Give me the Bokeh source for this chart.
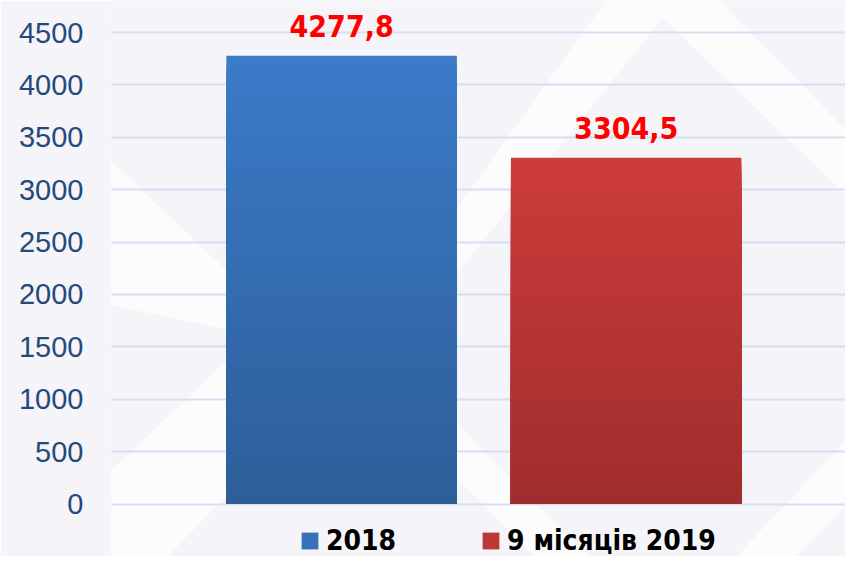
from bokeh.plotting import figure
from bokeh.models import (Range1d, FixedTicker, ColumnDataSource, LabelSet,
                          Legend, LegendItem, PolyAnnotation)
from bokeh.core.properties import value
from bokeh.embed import file_html
from bokeh.resources import INLINE

# ---- data ----
categories = ["2018", "9 місяців 2019"]
values = [4277.8, 3304.5]
y_ticks = [0, 500, 1000, 1500, 2000, 2500, 3000, 3500, 4000, 4500]

# ---- styles ----
top_colors = [(59, 123, 200), (204, 60, 58)]
bottom_colors = [(45, 94, 153), (160, 45, 45)]
solid_colors = ["#3872BA", "#BE3836"]
N_SLICES = 48
COND = "DejaVu Sans Condensed"
W, H = 845, 556
FRAME_LEFT = 111
X0, X1 = -0.3087, 2.2707
Y0, Y1 = -501, 4806

p = figure(width=W, height=H, output_backend="svg", toolbar_location=None,
           x_range=Range1d(X0, X1), y_range=Range1d(Y0, Y1),
           min_border_left=FRAME_LEFT, min_border_right=0, min_border_top=0,
           min_border_bottom=0, background_fill_color="#F5F5F9",
           border_fill_color="#F5F5F9", outline_line_color=None)

# ---- faint background chevrons (decoration, in page pixels) ----
def to_data(px, py):
    fx = px * W / 861.0
    fy = py * H / 572.0
    dx = X0 + (fx - FRAME_LEFT) / (W - FRAME_LEFT) * (X1 - X0)
    dy = Y1 - fy / H * (Y1 - Y0)
    return dx, dy

decor_shapes = [
    [(0, 57), (240, 287), (240, 340), (0, 290)],
    [(20, 572), (240, 362), (240, 500), (170, 572)],
    [(463, 217), (617, 0), (733, 0), (861, 133), (861, 200), (675, 18), (463, 283)],
    [(463, 433), (600, 572), (545, 572), (463, 490)],
    [(861, 453), (750, 572), (810, 572), (861, 520)],
]
for shape in decor_shapes:
    pts = [to_data(a, b) for a, b in shape]
    p.add_layout(PolyAnnotation(xs=[q[0] for q in pts], ys=[q[1] for q in pts],
                                fill_color="#FFFFFF", fill_alpha=0.7,
                                line_color=None, level="image"))

xs = [i + 0.5 for i in range(len(categories))]

# gradient bars: stacked-from-zero slices, tallest first
legend_renderers = []
for i, (x, v) in enumerate(zip(xs, values)):
    tops, cols = [], []
    for k in range(N_SLICES, 0, -1):
        t = v * k / N_SLICES
        f = (k - 0.5) / N_SLICES
        c = tuple(int(round(bottom_colors[i][j] + (top_colors[i][j] - bottom_colors[i][j]) * f)) for j in range(3))
        tops.append(t)
        cols.append("#%02x%02x%02x" % c)
    src = ColumnDataSource(dict(x=[x] * N_SLICES, top=tops, color=cols))
    p.vbar(x="x", bottom=0, top="top", width=0.81, fill_color="color",
           line_color=None, source=src)
    r = p.vbar(x=[x], bottom=[0], top=[0], width=0.81, fill_color=solid_colors[i],
               line_color=None)
    legend_renderers.append(r)

# value labels
lab_src = ColumnDataSource(dict(x=xs, y=values,
                                text=[f"{v:.1f}".replace(".", ",") for v in values]))
labels = LabelSet(x="x", y="y", text="text", source=lab_src, y_offset=19,
                  text_align="center", text_baseline="alphabetic",
                  text_font=value(COND), text_font_style="bold",
                  text_font_size="30px", text_color="#FF0000")
p.add_layout(labels)

# axes
p.xaxis.visible = False
p.yaxis.ticker = FixedTicker(ticks=y_ticks)
p.yaxis.axis_line_color = None
p.yaxis.major_tick_line_color = None
p.yaxis.minor_tick_line_color = None
p.yaxis.major_label_standoff = 22
p.yaxis.major_label_text_font = "Liberation Sans"
p.yaxis.major_label_text_font_size = "29px"
p.yaxis.major_label_text_color = "#24497A"
p.xgrid.grid_line_color = None
p.ygrid.ticker = FixedTicker(ticks=y_ticks)
p.ygrid.grid_line_color = "#D3E0F1"
p.ygrid.grid_line_width = 2

# legend
legend = Legend(items=[LegendItem(label=c, renderers=[r])
                       for c, r in zip(categories, legend_renderers)],
                orientation="horizontal", location=(188, -1),
                glyph_width=21, glyph_height=21, label_standoff=6, spacing=84,
                label_text_font=COND, label_text_font_style="bold",
                label_text_font_size="28px", label_text_color="#000000",
                background_fill_alpha=0, border_line_color=None,
                padding=0, margin=0)
p.add_layout(legend, "center")

open("out.html", "w").write(file_html(p, INLINE))
